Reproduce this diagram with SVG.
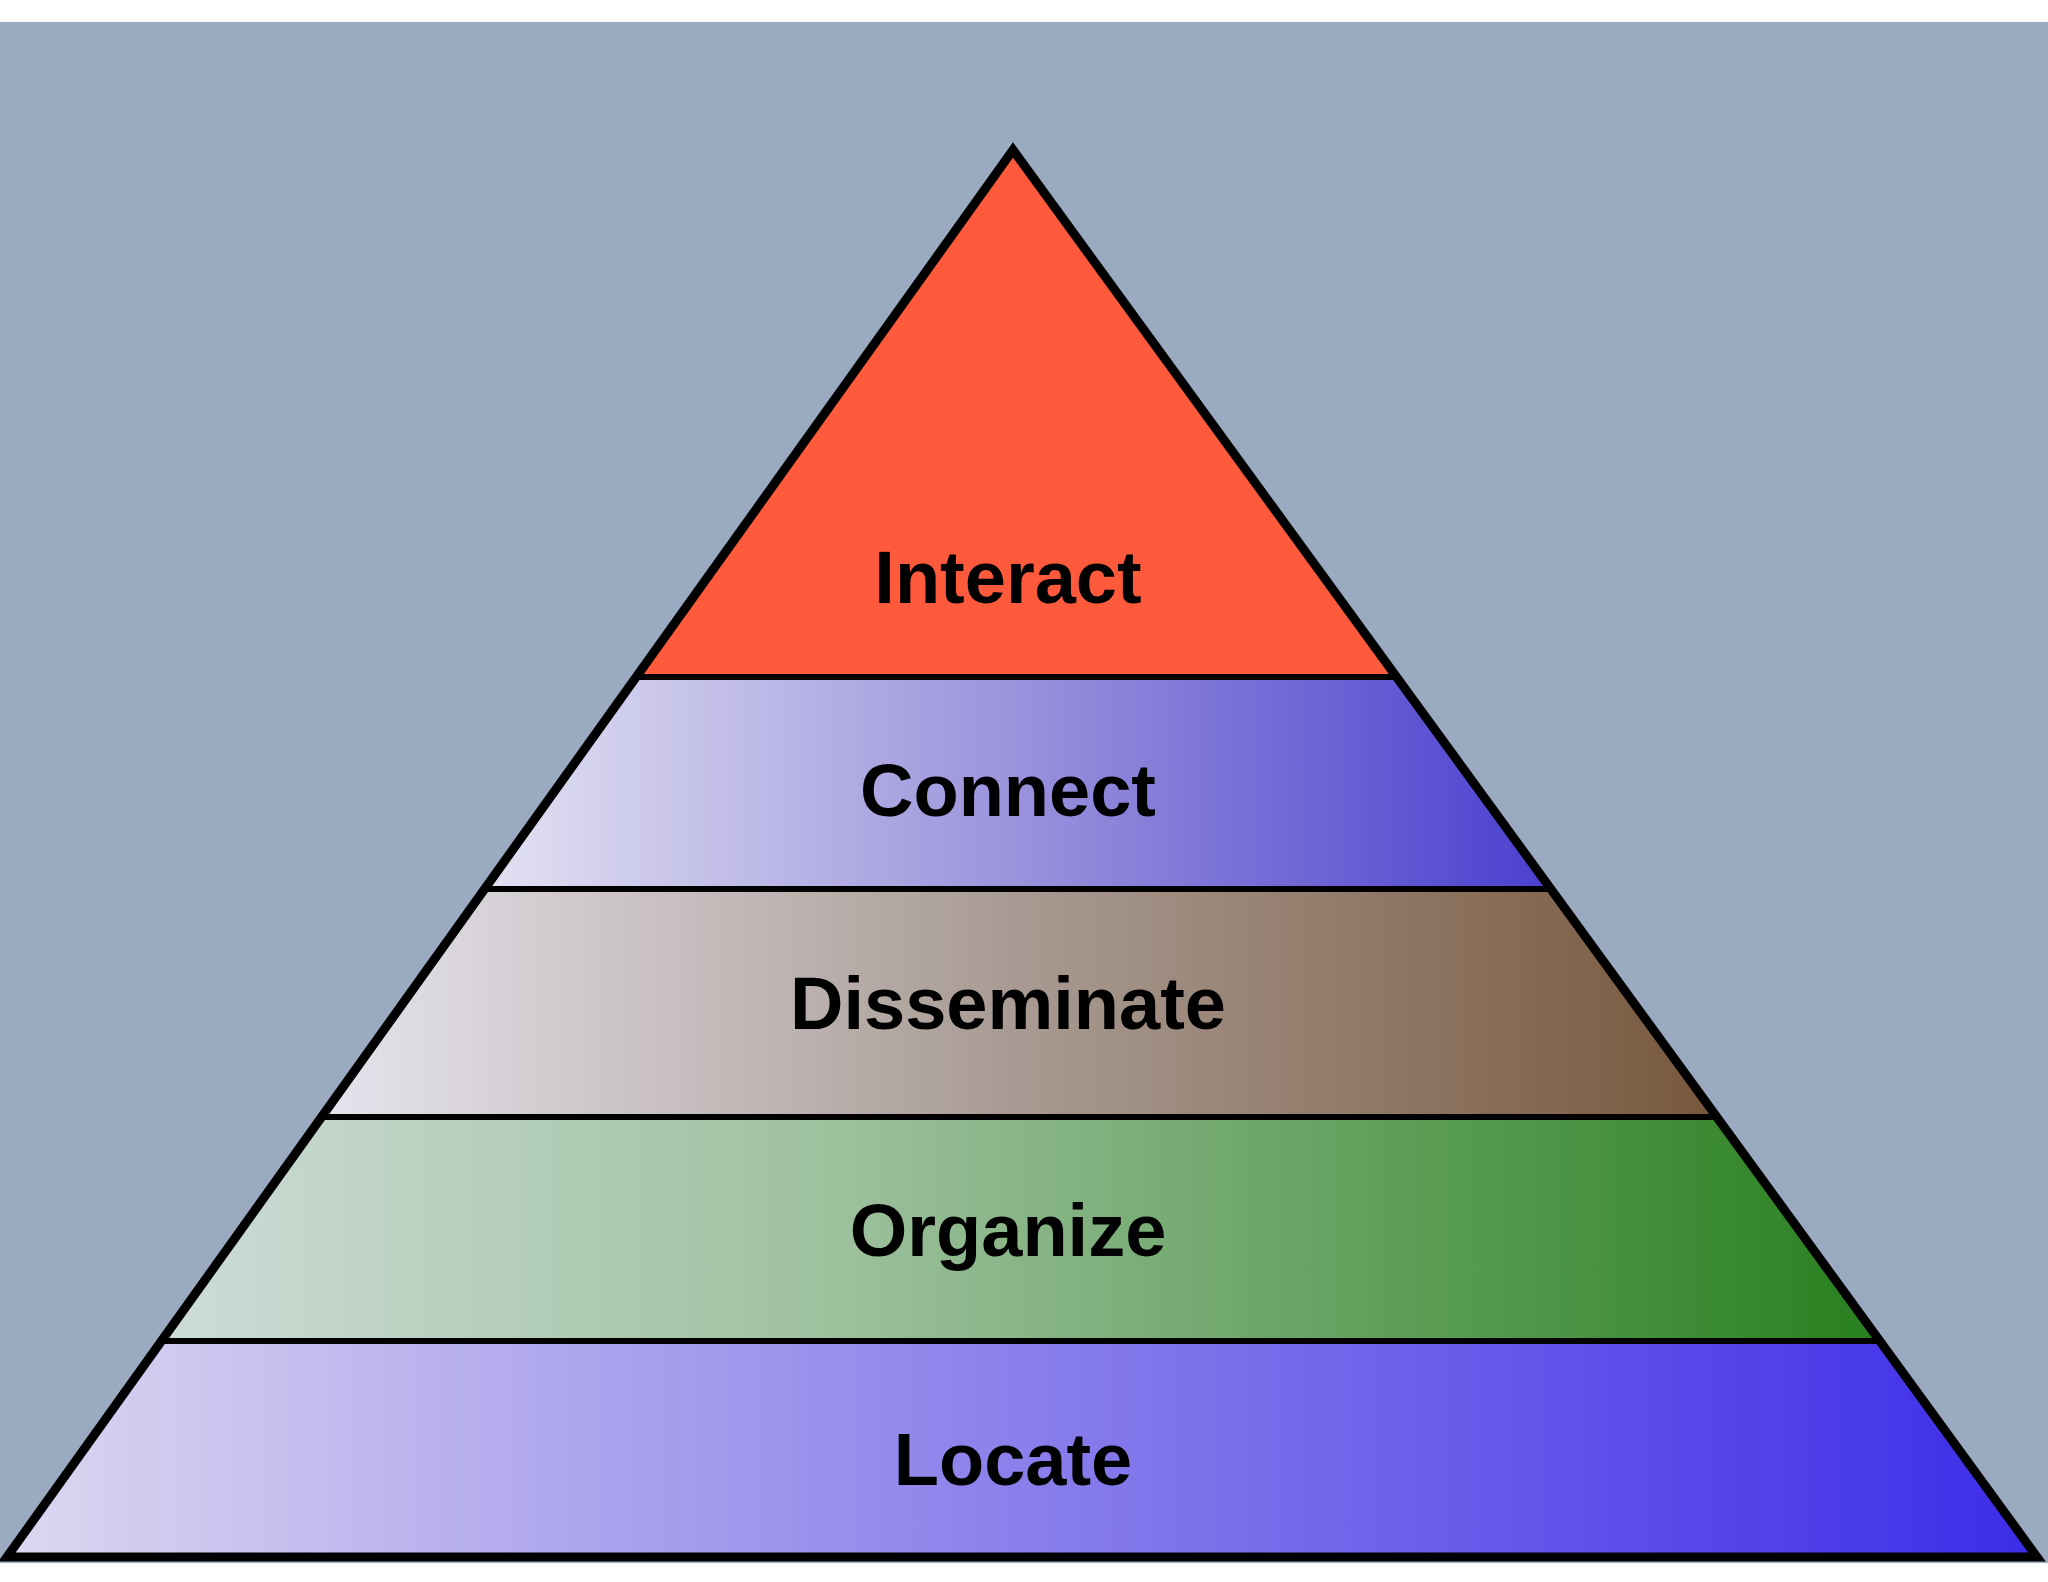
<svg xmlns="http://www.w3.org/2000/svg" width="2048" height="1582" viewBox="0 0 2048 1582">
<defs>
<linearGradient id="gC" x1="0" x2="1"><stop offset="0" stop-color="#e2e2f2"/><stop offset="0.5" stop-color="#9a92dc"/><stop offset="1" stop-color="#4a40d0"/></linearGradient>
<linearGradient id="gD" x1="0" x2="1"><stop offset="0" stop-color="#e6e4ee"/><stop offset="0.5" stop-color="#a89a92"/><stop offset="1" stop-color="#78583c"/></linearGradient>
<linearGradient id="gO" x1="0" x2="1"><stop offset="0" stop-color="#cddcd8"/><stop offset="0.4" stop-color="#9cc09c"/><stop offset="1" stop-color="#28801e"/></linearGradient>
<linearGradient id="gL" x1="0" x2="1"><stop offset="0" stop-color="#dcd8f0"/><stop offset="0.4" stop-color="#9a90ec"/><stop offset="1" stop-color="#3c2ce8"/></linearGradient>
</defs>
<style>
.t{font-family:"Liberation Sans",Arial,sans-serif;font-weight:bold;font-size:74px;text-anchor:middle;fill:#000}
.s{stroke:#000;stroke-width:6;stroke-linejoin:miter}
</style>
<rect width="2048" height="1582" fill="#fff"/>
<rect y="22" width="2048" height="1541" fill="#9aaac0"/>
<g id="locate"><polygon class="s" points="161,1341 1880,1341 2037,1557 7,1557" fill="url(#gL)"/><text class="t" x="1013" y="1485">Locate</text></g>
<g id="organize"><polygon class="s" points="322,1117 1717,1117 1880,1341 161,1341" fill="url(#gO)"/><text class="t" x="1008" y="1256">Organize</text></g>
<g id="disseminate"><polygon class="s" points="485,889 1551,889 1717,1117 322,1117" fill="url(#gD)"/><text class="t" x="1008" y="1029">Disseminate</text></g>
<g id="connect"><polygon class="s" points="636,677 1397,677 1551,889 485,889" fill="url(#gC)"/><text class="t" x="1008" y="816">Connect</text></g>
<g id="interact"><polygon class="s" points="1013,150 1397,677 636,677" fill="#ff5a3c"/><text class="t" x="1008" y="603">Interact</text></g>
<polygon points="1013,150 2037,1557 7,1557" fill="none" stroke="#000" stroke-width="9" stroke-linejoin="miter"/>
<g id="connectors"/>
</svg>
